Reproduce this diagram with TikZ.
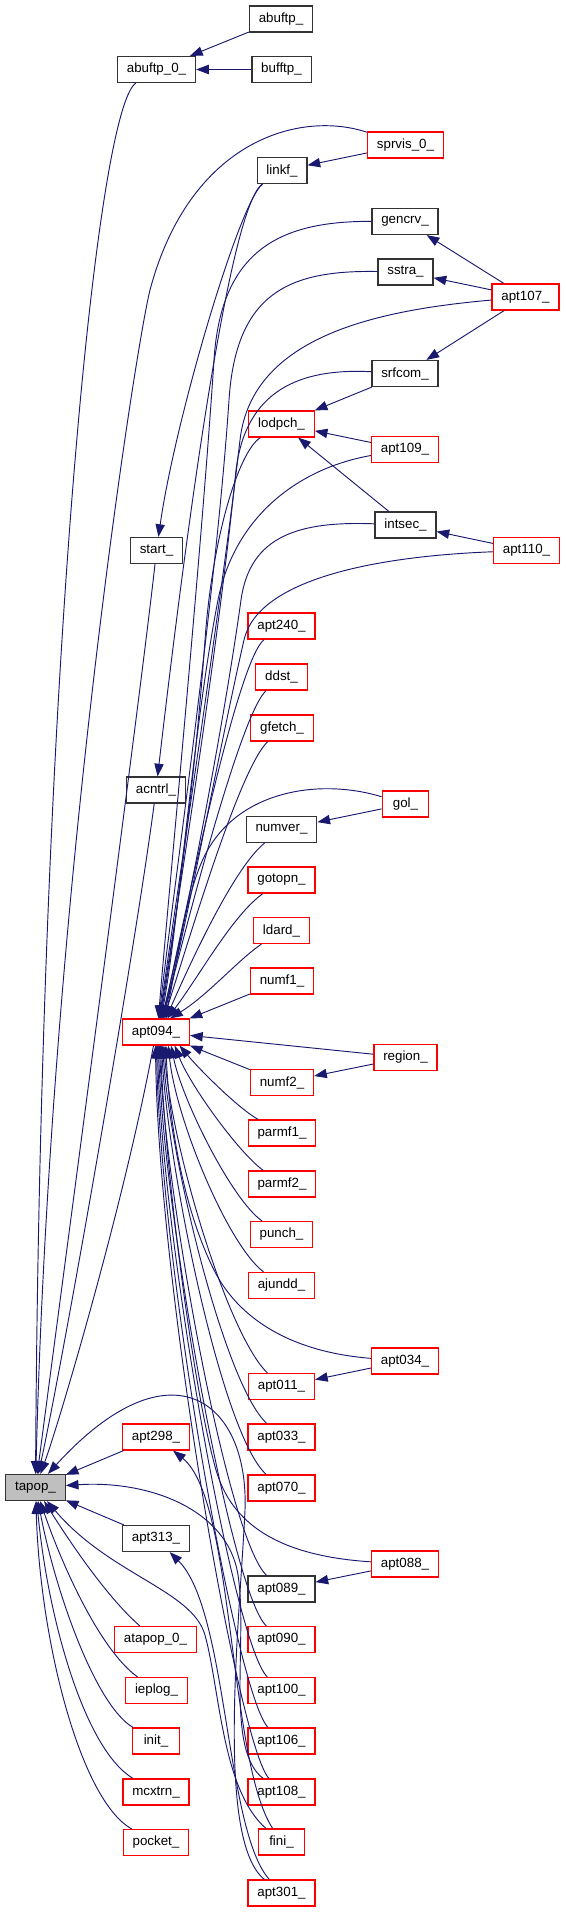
\documentclass[tikz,border=0pt]{standalone}
\usepackage{fontspec}
\setmainfont{Liberation Sans}
\usetikzlibrary{arrows.meta}
\definecolor{edgeblue}{RGB}{25,25,112}
\definecolor{focusgray}{RGB}{191,191,191}

\begin{document}
\begin{tikzpicture}[
    x=0.75pt, y=-0.75pt,
    fn/.style={rectangle, draw=black!80, line width=0.9pt, fill=white, minimum width=35pt, minimum height=19.5pt, inner xsep=7pt, inner ysep=0pt, font=\fontsize{10pt}{12pt}\selectfont},
    fnred/.style={fn, draw=red},
    fnfocus/.style={fn, fill=focusgray},
    call/.style={draw=edgeblue, line width=0.7pt, -{Triangle[length=9.5pt, width=7pt]}}
]
\useasboundingbox (0,0) rectangle (565,1912);

% Functions
\node[fn] (abuftp) at (281,19) {abuftp\_};
\node[fn] (abuftp0) at (156.5,69.5) {abuftp\_0\_};
\node[fn] (bufftp) at (281.5,69.5) {bufftp\_};
\node[fnred] (sprvis0) at (405.5,145) {sprvis\_0\_};
\node[fn] (linkf) at (282,170.5) {linkf\_};
\node[fn] (gencrv) at (405,221.5) {gencrv\_};
\node[fn] (sstra) at (405.5,272) {sstra\_};
\node[fnred] (apt107) at (525.5,297) {apt107\_};
\node[fn] (srfcom) at (405,373.5) {srfcom\_};
\node[fnred] (lodpch) at (281.5,424) {lodpch\_};
\node[fnred] (apt109) at (405,449.5) {apt109\_};
\node[fn] (intsec) at (405.5,525) {intsec\_};
\node[fnred] (apt110) at (526.5,550.5) {apt110\_};
\node[fn] (start) at (156.5,550.5) {start\_};
\node[fnred] (apt240) at (281.5,626) {apt240\_};
\node[fnred] (ddst) at (281.5,677) {ddst\_};
\node[fnred] (gfetch) at (282,728) {gfetch\_};
\node[fn] (acntrl) at (156,790) {acntrl\_};
\node[fnred] (gol) at (405.5,804) {gol\_};
\node[fn] (numver) at (281.5,829.5) {numver\_};
\node[fnred] (gotopn) at (281.5,880) {gotopn\_};
\node[fnred] (ldard) at (281.5,930.5) {ldard\_};
\node[fnred] (numf1) at (282,981) {numf1\_};
\node[fnred] (apt094) at (156,1032) {apt094\_};
\node[fnred] (region) at (405.5,1057.5) {region\_};
\node[fnred] (numf2) at (282,1082.5) {numf2\_};
\node[fnred] (parmf1) at (282,1133) {parmf1\_};
\node[fnred] (parmf2) at (282,1184) {parmf2\_};
\node[fnred] (punch) at (281.5,1234.5) {punch\_};
\node[fnred] (ajundd) at (281.5,1285.5) {ajundd\_};
\node[fnred] (apt034) at (405,1361) {apt034\_};
\node[fnred] (apt011) at (281.5,1386.5) {apt011\_};
\node[fnred] (apt033) at (281.5,1437) {apt033\_};
\node[fnred] (apt298) at (156,1437) {apt298\_};
\node[fnfocus] (tapop) at (35.5,1487.5) {tapop\_};
\node[fnred] (apt070) at (281.5,1488) {apt070\_};
\node[fn] (apt313) at (156,1538.5) {apt313\_};
\node[fnred] (apt088) at (405,1564) {apt088\_};
\node[fn] (apt089) at (281.5,1589) {apt089\_};
\node[fnred] (atapop0) at (155.5,1639.5) {atapop\_0\_};
\node[fnred] (apt090) at (281.5,1639.5) {apt090\_};
\node[fnred] (ieplog) at (156.5,1690.5) {ieplog\_};
\node[fnred] (apt100) at (281.5,1690.5) {apt100\_};
\node[fnred] (init) at (156,1741) {init\_};
\node[fnred] (apt106) at (281.5,1741) {apt106\_};
\node[fnred] (mcxtrn) at (156,1792) {mcxtrn\_};
\node[fnred] (apt108) at (281.5,1792) {apt108\_};
\node[fnred] (pocket) at (156,1842.5) {pocket\_};
\node[fnred] (fini) at (281.5,1842) {fini\_};
\node[fnred] (apt301) at (281.5,1893) {apt301\_};

% Calls into tapop_
\draw[call] (abuftp0) .. controls (95,110) and (40,700) .. (tapop);
\draw[call] (sprvis0) .. controls (300,110) and (190,140) .. (150,290) .. controls (135,350) and (50,900) .. (tapop);
\draw[call] (start) .. controls (140,700) and (60,1300) .. (tapop);
\draw[call] (acntrl) .. controls (135,950) and (65,1350) .. (tapop);
\draw[call] (apt094) .. controls (125,1200) and (60,1420) .. (tapop);
\draw[call] (apt298) -- (tapop);
\draw[call] (apt313) -- (tapop);
\draw[call] (apt301) .. controls (215,1840) and (240,1620) .. (245,1510) .. controls (249,1400) and (170,1340) .. (tapop);
\draw[call] (apt108) .. controls (225,1750) and (248,1640) .. (238,1575) .. controls (228,1510) and (150,1480) .. (tapop);
\draw[call] (fini) .. controls (222,1790) and (220,1690) .. (205,1635) .. controls (192,1590) and (110,1575) .. (tapop);
\draw[call] (atapop0) .. controls (110,1600) and (75,1550) .. (tapop);
\draw[call] (ieplog) .. controls (100,1650) and (62,1565) .. (tapop);
\draw[call] (init) .. controls (95,1705) and (55,1590) .. (tapop);
\draw[call] (mcxtrn) .. controls (85,1750) and (48,1620) .. (tapop);
\draw[call] (pocket) .. controls (80,1800) and (40,1640) .. (tapop);

% Other calls
\draw[call] (abuftp) -- (abuftp0);
\draw[call] (bufftp) -- (abuftp0);
\draw[call] (sprvis0) -- (linkf);
\draw[call] (linkf) .. controls (240,200) and (175,420) .. (start);
\draw[call] (linkf) .. controls (232,205) and (192,480) .. (acntrl);
\draw[call] (apt107) -- (gencrv);
\draw[call] (apt107) -- (sstra);
\draw[call] (apt107) -- (srfcom);
\draw[call] (srfcom) -- (lodpch);
\draw[call] (apt109) -- (lodpch);
\draw[call] (intsec) -- (lodpch);
\draw[call] (apt110) -- (intsec);
\draw[call] (gol) -- (numver);
\draw[call] (region) -- (numf2);
\draw[call] (apt034) -- (apt011);
\draw[call] (apt088) -- (apt089);
\draw[call] (fini) .. controls (228,1760) and (235,1500) .. (apt298);
\draw[call] (apt301) .. controls (225,1830) and (228,1610) .. (apt313);

% Calls into apt094_ from above
\draw[call] (gencrv) .. controls (280,221) and (221,250) .. (214,360) .. controls (201,558) and (168,900) .. (apt094.80);
\draw[call] (sstra) .. controls (290,270) and (236,292) .. (229,400) .. controls (216,594) and (172,900) .. (apt094.78);
\draw[call] (apt107) .. controls (380,310) and (252,335) .. (240,440) .. controls (222,598) and (176,900) .. (apt094.76);
\draw[call] (srfcom) .. controls (300,368) and (246,390) .. (236,470) .. controls (218,650) and (178,900) .. (apt094.74);
\draw[call] (lodpch) .. controls (238,452) and (212,540) .. (205,640) .. controls (195,780) and (175,930) .. (apt094.72);
\draw[call] (apt109) .. controls (300,468) and (235,515) .. (218,600) .. controls (193,728) and (178,930) .. (apt094.70);
\draw[call] (intsec) .. controls (300,521) and (250,535) .. (241,600) .. controls (223,730) and (182,940) .. (apt094.68);
\draw[call] (apt110) .. controls (380,556) and (258,578) .. (244,640) .. controls (221,740) and (184,940) .. (apt094.66);
\draw[call] (apt240) .. controls (238,660) and (188,900) .. (apt094.64);
\draw[call] (ddst) .. controls (242,712) and (190,910) .. (apt094.62);
\draw[call] (gfetch) .. controls (240,768) and (192,930) .. (apt094.60);
\draw[call] (gol) .. controls (320,778) and (238,790) .. (205,855) .. controls (185,895) and (178,960) .. (apt094.57);
\draw[call] (numver) .. controls (236,866) and (196,950) .. (apt094.54);
\draw[call] (gotopn) .. controls (232,916) and (200,975) .. (apt094.50);
\draw[call] (ldard) .. controls (238,960) and (208,995) .. (apt094.44);
\draw[call] (numf1) -- (apt094);

% Calls into apt094_ from below
\draw[call] (region) -- (apt094);
\draw[call] (numf2) -- (apt094);
\draw[call] (parmf1) .. controls (238,1108) and (200,1070) .. (apt094.-30);
\draw[call] (parmf2) .. controls (238,1152) and (190,1085) .. (apt094.-36);
\draw[call] (punch) .. controls (232,1200) and (182,1100) .. (apt094.-42);
\draw[call] (ajundd) .. controls (228,1245) and (176,1120) .. (apt094.-48);
\draw[call] (apt034) .. controls (290,1352) and (238,1318) .. (214,1270) .. controls (178,1198) and (168,1100) .. (apt094.-54);
\draw[call] (apt011) .. controls (228,1335) and (172,1150) .. (apt094.-60);
\draw[call] (apt033) .. controls (225,1385) and (170,1160) .. (apt094.-64);
\draw[call] (apt070) .. controls (222,1435) and (168,1170) .. (apt094.-68);
\draw[call] (apt088) .. controls (280,1556) and (232,1525) .. (216,1470) .. controls (194,1393) and (166,1180) .. (apt094.-72);
\draw[call] (apt089) .. controls (228,1540) and (166,1200) .. (apt094.-76);
\draw[call] (apt090) .. controls (232,1595) and (164,1220) .. (apt094.-80);
\draw[call] (apt100) .. controls (234,1645) and (162,1240) .. (apt094.-84);
\draw[call] (apt106) .. controls (236,1695) and (160,1260) .. (apt094.-88);
\draw[call] (apt108) .. controls (238,1745) and (158,1280) .. (apt094.-92);

\end{tikzpicture}
\end{document}
